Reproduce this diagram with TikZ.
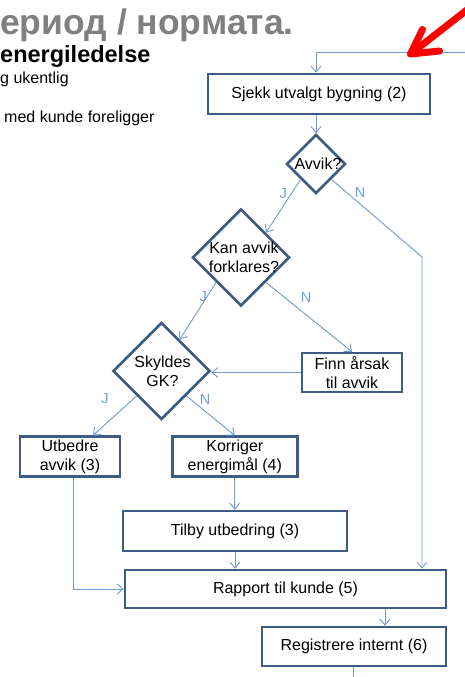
\documentclass[tikz,border=0pt]{standalone}
\usepackage{fontspec}
\setmainfont{Liberation Sans}
\usetikzlibrary{shapes.geometric,arrows.meta,calc}
\definecolor{boxblue}{RGB}{61,92,131}
\definecolor{linkblue}{RGB}{112,152,210}
\definecolor{labblue}{RGB}{112,155,220}
\definecolor{headgray}{RGB}{128,128,128}
\begin{document}
\begin{tikzpicture}[x=1pt,y=-1pt,
  stepbox/.style={draw=boxblue,line width=2.5pt,fill=white,inner sep=0pt,
    align=center,font=\fontsize{16}{19.5}\selectfont},
  decision/.style={diamond,draw=boxblue,line width=2.6pt,fill=white,
    inner sep=0pt,minimum width=#1,minimum height=#1},
  dtext/.style={align=center,inner sep=0pt,font=\fontsize{16}{19}\selectfont},
  link/.style={draw=linkblue,line width=0.9pt},
  arr/.style={link,-{Straight Barb[length=6pt,width=10pt,line width=0.9pt]}},
  yn/.style={text=labblue,inner sep=0pt,font=\fontsize{14.5}{14.5}\selectfont},
  headline/.style={anchor=base west,inner sep=0pt},
  redmark/.style={draw=red,line width=7pt,line cap=round,line join=round}]
\useasboundingbox (0,0) rectangle (465,677);

% heading fragments
\node[headline,text=headgray,font=\fontsize{35.5}{35.5}\bfseries] (title) at (0,35) {ериод / нормата.};
\node[headline,font=\fontsize{23.5}{23.5}\bfseries] (sub) at (0,62.5) {energiledelse};
\node[headline,font=\fontsize{16}{16}\selectfont] (line1) at (0,83) {g ukentlig};
\node[headline,font=\fontsize{16}{16}\selectfont] (line2) at (4,122) {med kunde foreligger};

% process steps
\node[stepbox,minimum width=222pt,minimum height=40pt] (sjk) at (319,94) {Sjekk utvalgt bygning (2)};
\node[decision=59pt,label={[dtext,xshift=2pt]center:{Avvik?}}] (avv) at (316,164) {};
\node[decision=97pt,label={[dtext,xshift=3pt]center:{Kan avvik\\forklares?}}] (kan) at (241,257.5) {};
\node[decision=97pt,label={[dtext,xshift=1pt]center:{Skyldes\\GK?}}] (sky) at (161.5,371) {};
\node[stepbox,minimum width=100pt,minimum height=39pt] (finn) at (352,372.5) {Finn årsak\\til avvik};
\node[stepbox,minimum width=100pt,minimum height=40pt] (utb) at (70,456.7) {Utbedre\\avvik (3)};
\node[stepbox,minimum width=125pt,minimum height=40pt] (kor) at (234.8,456.7) {Korriger\\energimål (4)};
\node[stepbox,minimum width=224pt,minimum height=40pt] (til) at (235,531) {Tilby utbedring (3)};
\node[stepbox,minimum width=321pt,minimum height=38pt] (rap) at (285.5,589) {Rapport til kunde (5)};
\node[stepbox,minimum width=184pt,minimum height=39pt] (reg) at (354,646.5) {Registrere internt (6)};

% helper points for connectors
\coordinate (loopin) at (465,52.5);
\coordinate (sjkin) at ($(sjk.north)+(-3,0)$);
\coordinate (ncorner) at (422,257);
\coordinate (utbin) at ($(utb.north)+(23,0)$);
\coordinate (utbout) at ($(utb.south)+(3,0)$);
\coordinate (regin) at ($(reg.north)+(31,0)$);
\coordinate (regout) at (353,677);

% connectors
\draw[arr] (loopin) -- (loopin -| sjkin) -- (sjkin);
\draw[arr] (sjk.south -| avv.north) -- (avv.north);
\draw[arr] (avv.south west) -- (kan.north east);
\draw[arr] (avv.south east) -- (ncorner) -- (ncorner |- rap.north);
\draw[arr] (kan.south west) -- (sky.60);
\draw[arr] (kan.south east) -- (finn.north);
\draw[arr] (finn.west) -- (finn.west -| sky.east);
\draw[arr] (sky.south west) -- (utbin);
\draw[arr] (sky.south east) -- (kor.north);
\draw[arr] (kor.south) -- (kor.south |- til.north);
\draw[arr] (til.south) -- (til.south |- rap.north);
\draw[arr] (utbout) |- (rap.west);
\draw[arr] (rap.south -| regin) -- (regin);
\draw[link] (reg.south -| regout) -- (regout);

% branch labels
\node[yn] (avvJ) at (283.3,193.5) {J};
\node[yn] (avvN) at (360,193) {N};
\node[yn] (kanJ) at (203.3,296.7) {J};
\node[yn] (kanN) at (306,297.7) {N};
\node[yn] (skyJ) at (105,398.3) {J};
\node[yn] (skyN) at (205,400) {N};

% red pointer
\coordinate (redtail) at (472,6);
\coordinate (redtip) at (410.5,54);
\coordinate (redb1) at (422.5,29.5);
\coordinate (redb2) at (439.5,51);
\draw[redmark] (redtail) -- (redtip);
\draw[redmark] (redb1) -- (redtip) -- (redb2);
\end{tikzpicture}
\end{document}
